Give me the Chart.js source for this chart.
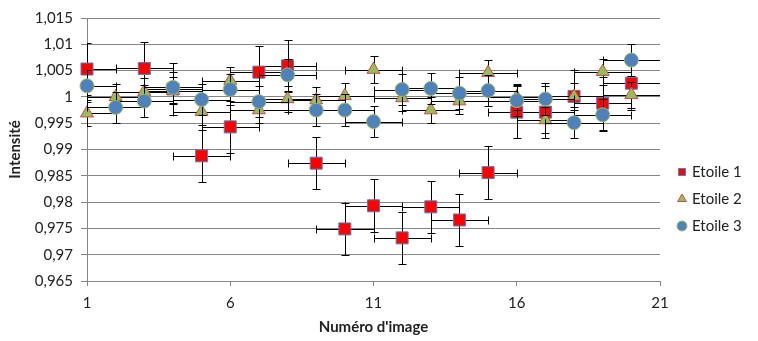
<!DOCTYPE html>
<html>
<head>
<meta charset="utf-8">
<script src="https://cdn.jsdelivr.net/npm/chart.js@4.4.0/dist/chart.umd.min.js"></script>
<style>
  html, body { margin: 0; padding: 0; background: #fff; }
  #wrap { width: 758px; height: 341px; }
</style>
</head>
<body>
<div id="wrap"><canvas id="mychart" width="758" height="341"></canvas></div>
<script>
// image numbers (x) and intensities for each star (null = no visible point)
var images = [1, 2, 3, 4, 5, 6, 7, 8, 9, 10, 11, 12, 13, 14, 15, 16, 17, 18, 19, 20];
var etoile1 = [1.0053, null, 1.0054, 1.0015, 0.9888, 0.9943, 1.0047, 1.0059, 0.9874, 0.9749,
               0.9793, 0.9732, 0.9791, 0.9766, 0.9856, 0.9971, 0.9971, 1.0001, 0.9988, 1.0026];
var etoile2 = [0.9969, 1.0000, 1.0010, 1.0012, 0.9972, 1.0031, 0.9975, 0.9996, 0.9994, 1.0002,
               1.0052, 0.9998, 0.9975, 0.9992, 1.0046, 1.0000, 0.9956, 1.0001, 1.0048, 1.0004];
var etoile3 = [1.0021, 0.9980, 0.9992, 1.0018, 0.9995, 1.0014, 0.9991, 1.0042, 0.9975, 0.9975,
               0.9953, 1.0014, 1.0016, 1.0007, 1.0012, 0.9993, 0.9996, 0.9951, 0.9966, 1.0070];
// error bars: +/- on image number and on intensity
var xErr = 1;
var yErr1 = 0.005;
var yErr2 = 0.0025;
var yErr3 = 0.003;
var seriesNames = ['Etoile 1', 'Etoile 2', 'Etoile 3'];
var yTicks = [0.965, 1.015, 0.005];
var xTicks = [1, 21, 5];

function toPoints(ys) {
  var pts = [];
  images.forEach(function (x, i) {
    if (ys[i] !== null) pts.push({ x: x, y: ys[i] });
  });
  return pts;
}

function frenchNumber(v) {
  return String(Number(v.toFixed(3))).replace('.', ',');
}

// draw the error bars of a dataset just before its markers
var errorBars = {
  id: 'errorBars',
  beforeDatasetDraw: function (chart, args) {
    var ds = chart.data.datasets[args.index];
    var xs = chart.scales.x, ys = chart.scales.y;
    var area = chart.chartArea;
    var ctx = chart.ctx;
    var cap = 4;
    ctx.save();
    ctx.beginPath();
    ctx.rect(area.left, 0, area.right - area.left, chart.height);
    ctx.clip();
    ctx.strokeStyle = '#000';
    ctx.lineWidth = 1;
    ds.data.forEach(function (p) {
      var px = Math.round(xs.getPixelForValue(p.x)) + 0.5;
      var py = Math.round(ys.getPixelForValue(p.y)) + 0.5;
      var xl = Math.round(xs.getPixelForValue(p.x - ds.xErr)) + 0.5;
      var xr = Math.round(xs.getPixelForValue(p.x + ds.xErr)) + 0.5;
      var yt = Math.round(ys.getPixelForValue(p.y + ds.yErr)) + 0.5;
      var yb = Math.round(ys.getPixelForValue(p.y - ds.yErr)) + 0.5;
      ctx.beginPath();
      ctx.moveTo(xl, py); ctx.lineTo(xr, py);
      ctx.moveTo(xl, py - cap); ctx.lineTo(xl, py + cap);
      ctx.moveTo(xr, py - cap); ctx.lineTo(xr, py + cap);
      ctx.moveTo(px, yt); ctx.lineTo(px, yb);
      ctx.moveTo(px - cap, yt); ctx.lineTo(px + cap, yt);
      ctx.moveTo(px - cap, yb); ctx.lineTo(px + cap, yb);
      ctx.stroke();
    });
    ctx.restore();
  }
};

// legend on the right, drawn with the datasets' own marker styles
var sideLegend = {
  id: 'sideLegend',
  afterDraw: function (chart) {
    var ctx = chart.ctx;
    var x = chart.chartArea.right + 22;
    var y0 = 172, step = 27;
    ctx.save();
    chart.data.datasets.forEach(function (ds, i) {
      var y = y0 + i * step;
      ctx.fillStyle = ds.backgroundColor;
      ctx.strokeStyle = ds.borderColor;
      ctx.lineWidth = 1;
      Chart.helpers.drawPoint(ctx, { pointStyle: ds.pointStyle, radius: 5, borderWidth: 1, rotation: 0 }, x, y);
      ctx.fillStyle = '#222';
      ctx.font = '15px Lato';
      ctx.textBaseline = 'middle';
      ctx.fillText(ds.label, x + 10, y);
    });
    ctx.restore();
  }
};

var ctx = document.getElementById('mychart').getContext('2d');
var chart = new Chart(ctx, {
  type: 'scatter',
  data: {
    datasets: [{
      label: seriesNames[0],
      data: toPoints(etoile1),
      xErr: xErr, yErr: yErr1,
      pointStyle: 'rect', pointRadius: 8.5,
      backgroundColor: '#ff0000', borderColor: '#4f81bd', borderWidth: 1,
      order: 3, clip: false
    }, {
      label: seriesNames[1],
      data: toPoints(etoile2),
      xErr: xErr, yErr: yErr2,
      pointStyle: 'triangle', pointRadius: 7.5,
      backgroundColor: '#9bbb59', borderColor: '#c0504d', borderWidth: 1,
      order: 2, clip: false
    }, {
      label: seriesNames[2],
      data: toPoints(etoile3),
      xErr: xErr, yErr: yErr3,
      pointStyle: 'circle', pointRadius: 7,
      backgroundColor: '#4f81bd', borderColor: '#9bbb59', borderWidth: 1,
      order: 1, clip: false
    }]
  },
  options: {
    responsive: false,
    animation: false,
    layout: { padding: { left: 0, top: 18, right: 98, bottom: 0 } },
    plugins: {
      legend: { display: false },
      tooltip: { enabled: false }
    },
    scales: {
      x: {
        type: 'linear',
        min: xTicks[0], max: xTicks[1],
        afterFit: function (s) { s.height = 60; },
        ticks: {
          stepSize: xTicks[2],
          padding: 8,
          color: '#222',
          font: { family: 'Lato', size: 15 },
          maxRotation: 0
        },
        grid: { drawOnChartArea: false, color: '#868686', tickLength: 5 },
        border: { color: '#868686' },
        title: {
          display: true, text: "Numéro d'image", color: '#222',
          font: { family: 'Lato', size: 15, weight: 'bold' },
          padding: { top: 0, bottom: 5 }
        }
      },
      y: {
        type: 'linear',
        min: yTicks[0], max: yTicks[1],
        afterFit: function (s) { s.width = 87; },
        ticks: {
          stepSize: yTicks[2],
          padding: 8,
          color: '#222',
          font: { family: 'Lato', size: 15 },
          callback: function (v) { return frenchNumber(v); }
        },
        grid: { color: '#868686', tickLength: 6 },
        border: { color: '#868686' },
        title: {
          display: true, text: 'Intensité', color: '#222',
          font: { family: 'Lato', size: 15, weight: 'bold' },
          padding: { top: 6, bottom: 0 }
        }
      }
    }
  },
  plugins: [errorBars, sideLegend]
});
</script>
</body>
</html>
